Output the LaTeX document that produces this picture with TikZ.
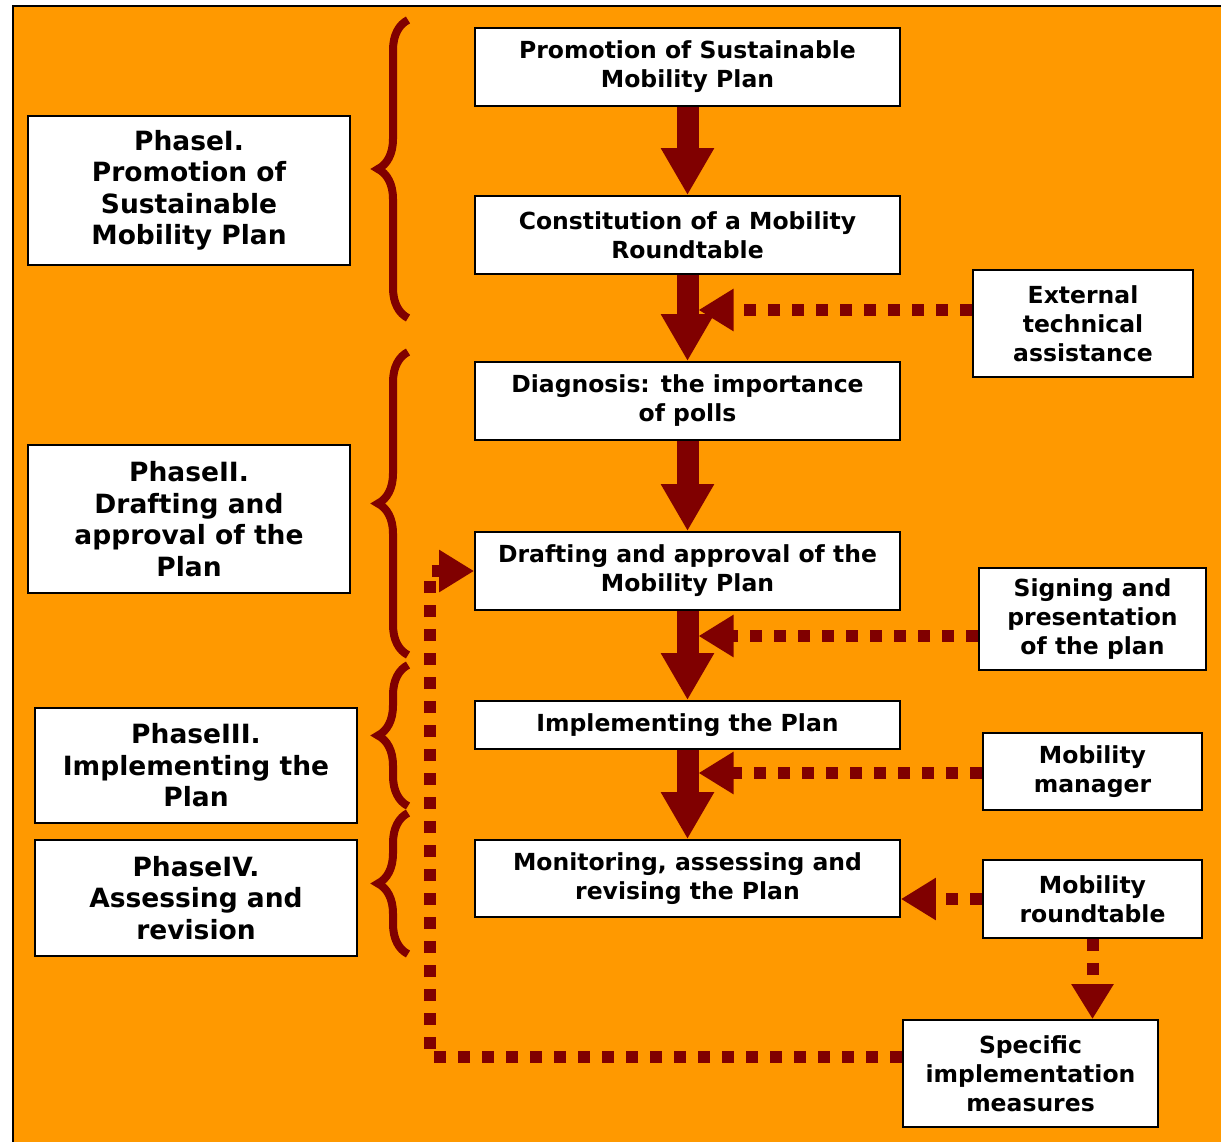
\documentclass[tikz,border=0pt]{standalone}
\usepackage{fontspec}
\setmainfont{DejaVu Sans}
\usetikzlibrary{arrows.meta, decorations.pathreplacing}
\definecolor{bgorange}{HTML}{FF9900}
\definecolor{darkred}{HTML}{800000}
\tikzset{
  box/.style={draw=black, line width=1.8pt, fill=white, align=center, inner sep=0pt, font=\bfseries\fontsize{23.5}{29}\selectfont},
  phasebox/.style={box, font=\bfseries\fontsize{26.5}{31.5}\selectfont},
  bigarrow/.style={darkred, line width=22pt, -{Triangle[length=47pt,width=50pt]}},
  dotarrow/.style={darkred, line width=12pt, dash pattern=on 12pt off 12pt, -{Triangle[length=35pt,width=40pt]}},
  phasebrace/.style={darkred, line width=8pt, decorate, decoration={brace, amplitude=30pt}}
}
\begin{document}
\begin{tikzpicture}[x=1pt, y=-1pt]
\useasboundingbox (0,0) rectangle (1221,1141);
\fill[white] (0,0) rectangle (1221,1141);
\draw[fill=bgorange, line width=1.5pt] (13,6) rectangle (1225,1145);

\node[box, minimum width=425pt, minimum height=78pt] (b1) at (687.5,67) {Promotion of Sustainable\\Mobility Plan};
\node[box, minimum width=425pt, minimum height=78pt] (b2) at (687.5,235) {Constitution of a Mobility\\Roundtable};
\node[box, minimum width=425pt, minimum height=78pt] (b3) at (687.5,401) {Diagnosis: the importance\\of polls};
\node[box, minimum width=425pt, minimum height=78pt] (b4) at (687.5,571) {Drafting and approval of the\\Mobility Plan};
\node[box, minimum width=425pt, minimum height=48pt] (b5) at (687.5,725) {Implementing the Plan};
\node[box, minimum width=425pt, minimum height=77pt] (b6) at (687.5,878.5) {Monitoring, assessing and\\revising the Plan};

\node[box, minimum width=220pt, minimum height=107pt] (ext) at (1083,323.5) {External\\technical\\assistance};
\node[box, minimum width=227pt, minimum height=102pt] (sign) at (1092.5,619) {Signing and\\presentation\\of the plan};
\node[box, minimum width=219pt, minimum height=77pt] (mgr) at (1092.5,771.5) {Mobility\\manager};
\node[box, minimum width=219pt, minimum height=78pt] (rt) at (1092.5,899) {Mobility\\roundtable};
\node[box, minimum width=255pt, minimum height=107pt] (spec) at (1030.5,1073.5) {Specific\\implementation\\measures};

\node[phasebox, minimum width=322pt, minimum height=149pt] (p1) at (189,190.5) {PhaseI.\\Promotion of\\Sustainable\\Mobility Plan};
\node[phasebox, minimum width=322pt, minimum height=148pt] (p2) at (189,519) {PhaseII.\\Drafting and\\approval of the\\Plan};
\node[phasebox, minimum width=322pt, minimum height=115pt] (p3) at (196,765.5) {PhaseIII.\\Implementing the\\Plan};
\node[phasebox, minimum width=322pt, minimum height=116pt] (p4) at (196,898) {PhaseIV.\\Assessing and\\revision};

\draw[phasebrace] (408,318) -- (408,20);
\draw[phasebrace] (408,655) -- (408,352);
\draw[phasebrace] (408,806) -- (408,665);
\draw[phasebrace] (408,954) -- (408,813);

\draw[bigarrow] (b1) -- (b2);
\draw[bigarrow] (b2) -- (b3);
\draw[bigarrow] (b3) -- (b4);
\draw[bigarrow] (b4) -- (b5);
\draw[bigarrow] (b5) -- (b6);

\coordinate (t1) at (698.5,310);
\coordinate (t2) at (698.5,636);
\coordinate (t3) at (698.5,773);
\coordinate (lp) at (430,1057);
\draw[dotarrow] (ext.west |- t1) -- (t1);
\draw[dotarrow] (sign.west |- t2) -- (t2);
\draw[dotarrow] (mgr.west |- t3) -- (t3);
\draw[dotarrow] (rt.west) -- (b6.east |- rt.west);
\draw[dotarrow] (rt.south) -- (rt.south |- spec.north);
\draw[dotarrow] (spec.west |- lp) -- (lp) |- (b4.west);
\end{tikzpicture}
\end{document}
